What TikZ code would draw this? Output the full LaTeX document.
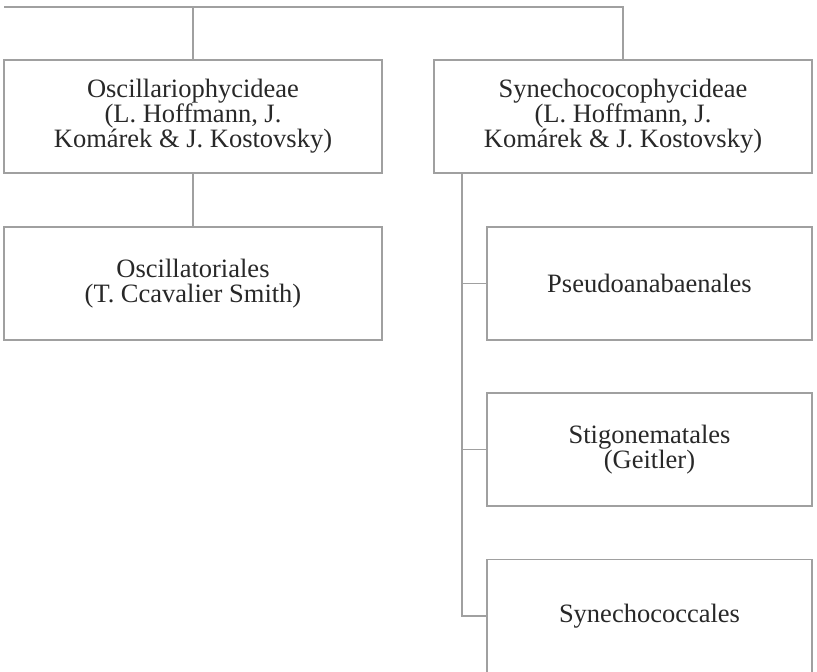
\documentclass[tikz,border=0pt]{standalone}
\usepackage{fontspec}
\setmainfont{Liberation Serif}
\definecolor{linegray}{RGB}{160,160,160}
\definecolor{textgray}{RGB}{40,40,40}
\begin{document}
\begin{tikzpicture}[x=1pt,y=-1pt,
  box/.style={draw=linegray,line width=1.4pt,inner sep=0pt,align=center,
    text=textgray,font=\fontsize{26.5}{25}\selectfont,
    minimum height=113pt},
  wide/.style={box,minimum width=378pt},
  narrow/.style={box,minimum width=325pt},
  conn/.style={draw=linegray,line width=1.4pt}]
\useasboundingbox (0,0) rectangle (817,672);
\node[wide] (A) at (193,116.5) {Oscillariophycideae\\(L. Hoffmann, J.\\Komárek \& J. Kostovsky)};
\node[wide] (B) at (623,116.5) {Synechococophycideae\\(L. Hoffmann, J.\\Komárek \& J. Kostovsky)};
\node[wide] (C) at (193,283.5) {Oscillatoriales\\(T. Ccavalier Smith)};
\node[narrow] (D) at (649.5,283.5) {Pseudoanabaenales};
\node[narrow] (E) at (649.5,449.5) {Stigonematales\\(Geitler)};
\node[narrow] (F) at (649.5,616) {Synechococcales};
\coordinate (top) at (4,7);
\coordinate (trunk) at (462,173);
\draw[conn] (top) -| (B.north);
\draw[conn] (A.north) -- (A.north |- top);
\draw[conn] (A.south) -- (C.north);
\draw[conn] (trunk) |- (D.west);
\draw[conn] (trunk) |- (E.west);
\draw[conn] (trunk) |- (F.west);
\end{tikzpicture}
\end{document}
